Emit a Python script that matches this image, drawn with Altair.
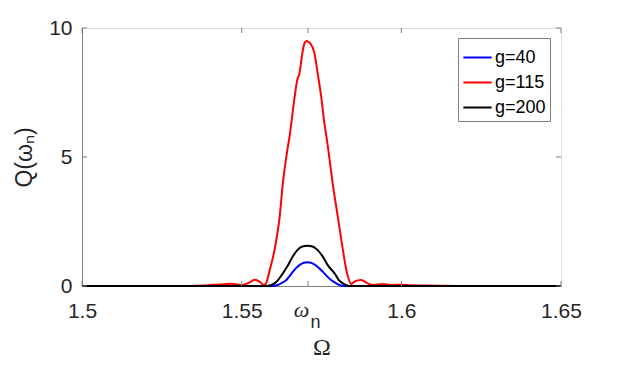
import altair as alt
import pandas as pd

# ---- data ----
omega_n = 1.5708

blue_x = [1.500, 1.5595, 1.5613, 1.5627, 1.5640, 1.5650, 1.5660, 1.5681, 1.5695, 1.5706,
          1.5717, 1.5731, 1.5754, 1.5767, 1.5780, 1.5793, 1.5806, 1.5820, 1.650]
blue_y = [0, 0, 0.04, 0.13, 0.23, 0.38, 0.55, 0.81, 0.90, 0.92,
          0.90, 0.81, 0.55, 0.38, 0.23, 0.13, 0.04, 0, 0]

red_x = [1.500, 1.530, 1.538, 1.543, 1.5468, 1.5499, 1.5525, 1.5541, 1.5556, 1.5569,
         1.5575, 1.5588, 1.5603, 1.5619, 1.5629, 1.5643, 1.5650, 1.5658, 1.5666, 1.5674,
         1.5681, 1.5687, 1.5690, 1.5697, 1.5703, 1.5710, 1.5715, 1.5728, 1.5738, 1.5749,
         1.5759, 1.5770, 1.5785, 1.5801, 1.5817, 1.5830, 1.5843, 1.5853, 1.5874, 1.5895,
         1.5909, 1.5941, 1.5972, 1.6000, 1.6030, 1.6070, 1.6120, 1.6180, 1.650]
red_y = [0, 0, 0.02, 0.06, 0.09, 0.03, 0.14, 0.24, 0.17, 0.04,
         0.08, 0.62, 1.40, 2.69, 3.98, 5.27, 5.79, 6.56, 7.34, 7.98,
         8.24, 8.76, 9.02, 9.42, 9.50, 9.45, 9.40, 9.02, 8.24, 7.34,
         6.31, 5.40, 3.98, 2.69, 1.40, 0.49, 0.08, 0.17, 0.23, 0.10,
         0.04, 0.08, 0.04, 0.05, 0.03, 0.02, 0.01, 0, 0]

black_x = [1.500, 1.5577, 1.5590, 1.5603, 1.5615, 1.5629, 1.5645, 1.5660, 1.5675, 1.5690,
           1.5706, 1.5722, 1.5737, 1.5754, 1.5770, 1.5791, 1.5803, 1.5817, 1.5828, 1.5838, 1.650]
black_y = [0, 0, 0.03, 0.10, 0.25, 0.49, 0.80, 1.14, 1.40, 1.53,
           1.56, 1.53, 1.40, 1.14, 0.80, 0.49, 0.25, 0.10, 0.03, 0, 0]

series_names = ["g=40", "g=115", "g=200"]
series_colors = ["#0000ff", "#ff0000", "#000000"]

x_ticks = [1.5, 1.55, omega_n, 1.6, 1.65]
y_ticks = [0, 5, 10]

W, H = 479, 258
axis_col = "#7f7f7f"
txt_col = "#262626"

def frame(xs, ys, name):
    return pd.DataFrame({"Omega": xs, "Q": ys, "series": name})

xscale = alt.Scale(domain=[1.5, 1.65], nice=False, zero=False)
yscale = alt.Scale(domain=[0, 10], nice=False)
cscale = alt.Scale(domain=series_names, range=series_colors)

xaxis = alt.Axis(values=x_ticks, tickSize=0, labelFontSize=21, labelFont="Liberation Sans",
                 labelColor=txt_col, labelPadding=14, domainColor=axis_col, grid=False,
                 labelExpr="abs(datum.value - 1.5708) < 0.0005 ? '' : format(datum.value, '')",
                 title="Ω", titleFont="Liberation Serif", titleFontSize=24, titleFontWeight="normal",
                 titleColor=txt_col, titlePadding=14, labelFlush=False)
yaxis = alt.Axis(values=y_ticks, tickSize=0, labelFontSize=21, labelFont="Liberation Sans",
                 labelColor=txt_col, labelPadding=10, domainColor=axis_col, grid=False,
                 title="Q(ωₙ)", titleFont="Liberation Sans", titleFontSize=23,
                 titleFontWeight="normal", titleColor=txt_col, titlePadding=12)

legend = alt.Legend(title=None, orient="none", legendX=376, legendY=10,
                    symbolType="stroke", symbolSize=800, symbolStrokeWidth=2,
                    labelFontSize=18, labelFont="Liberation Sans", labelColor="#000000",
                    strokeColor=axis_col, fillColor="white", padding=4, rowPadding=-3,
                    labelOffset=2)

def line_layer(xs, ys, name):
    return alt.Chart(frame(xs, ys, name)).mark_line(strokeWidth=2, interpolate="monotone").encode(
        x=alt.X("Omega:Q", scale=xscale, axis=xaxis),
        y=alt.Y("Q:Q", scale=yscale, axis=yaxis),
        color=alt.Color("series:N", scale=cscale, legend=legend),
    )

blue = line_layer(blue_x, blue_y, "g=40")
red = line_layer(red_x, red_y, "g=115")
black = line_layer(black_x, black_y, "g=200")

# inward ticks (MATLAB box style)
xt = pd.DataFrame({"t": x_ticks})
yt = pd.DataFrame({"t": y_ticks})
xb = alt.Chart(xt).mark_rule(color=axis_col, strokeWidth=1).encode(
    x=alt.X("t:Q", scale=xscale), y=alt.value(H), y2=alt.value(H - 5))
xtop = alt.Chart(xt).mark_rule(color=axis_col, strokeWidth=1).encode(
    x=alt.X("t:Q", scale=xscale), y=alt.value(0), y2=alt.value(5))
yl = alt.Chart(yt).mark_rule(color=axis_col, strokeWidth=1).encode(
    y=alt.Y("t:Q", scale=yscale), x=alt.value(0), x2=alt.value(5))
yr = alt.Chart(yt).mark_rule(color=axis_col, strokeWidth=1).encode(
    y=alt.Y("t:Q", scale=yscale), x=alt.value(W), x2=alt.value(W - 5))

# omega_n tick label with subscript
lab = pd.DataFrame({"t": [omega_n]})
w_txt = alt.Chart(lab).mark_text(text="ω", font="Liberation Serif", fontStyle="italic",
                                 fontSize=22, color=txt_col, baseline="alphabetic",
                                 dx=-6.5).encode(x=alt.X("t:Q", scale=xscale), y=alt.value(289))
n_txt = alt.Chart(lab).mark_text(text="n", font="Liberation Sans", fontSize=18,
                                 color=txt_col, baseline="alphabetic",
                                 dx=7.5).encode(x=alt.X("t:Q", scale=xscale), y=alt.value(300))

chart = alt.layer(blue, red, black, xb, xtop, yl, yr, w_txt, n_txt).properties(
    width=W, height=H, autosize=alt.AutoSizeParams(type="none"),
    padding={"left": 74, "top": 20, "right": 54, "bottom": 73},
).configure_view(stroke=axis_col, strokeWidth=1).configure(background="white")

chart.save("out.html", embed_options={"renderer": "svg", "actions": False})
